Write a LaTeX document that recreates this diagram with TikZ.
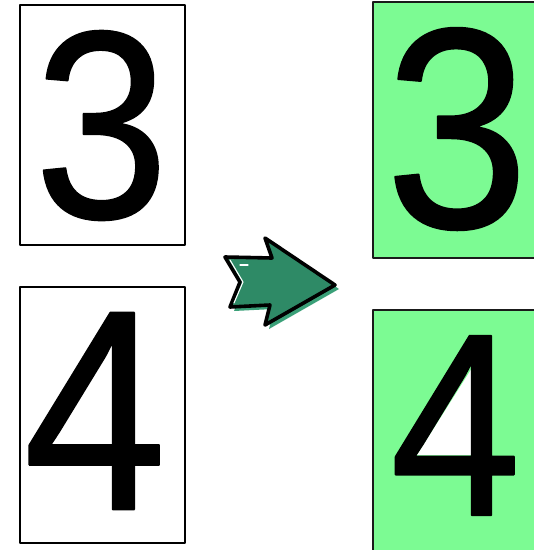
\documentclass[tikz,border=0pt]{standalone}
\usepackage{fontspec}
\setmainfont{Liberation Sans}
\newfontfamily\cardfont[FakeBold=0.7]{Liberation Sans}
\usepackage{xcolor}
\usetikzlibrary{calc}
\definecolor{cardgreen}{HTML}{7CFB93}
\definecolor{cardline}{HTML}{1A1A1A}
\definecolor{arrowgreen}{HTML}{2E8A66}
\definecolor{arrowshade}{HTML}{3AA078}
\tikzset{
every picture/.style={line cap=round,line join=round},
plain card/.style={draw=black, fill=white, line width=1.4pt},
done card/.style={draw=cardline, fill=cardgreen, line width=2pt},
card digit/.style={inner sep=0pt, anchor=center, xscale=0.9},
arrow body/.style={fill=arrowgreen, draw=black, line width=3.6pt},
arrow shadow/.style={fill=arrowshade},
arrow gleam/.style={draw=white, line width=1.1pt}
}
\newcommand{\digitsize}[1]{\cardfont\fontsize{#1}{#1}\selectfont}

\begin{document}
\begin{tikzpicture}[x=1pt,y=-1pt]
\useasboundingbox (0,0) rectangle (534,550);
\clip (0,0) rectangle (534,550);
% cards before
\draw[plain card] (20,5) rectangle (185,245);
\draw[plain card] (20,287) rectangle (185,543);
\node[card digit,font=\digitsize{268}] (three) at (101.5,125.5) {3};
\node[card digit,font=\digitsize{286}] (four) at (95,411) {4};
% cards after
\draw[done card] (373,2) rectangle (545,258);
\draw[done card] (373,310) rectangle (545,560);
\fill[white] (417,455) -- (472,368) -- (472,455) -- cycle;
\node[card digit,font=\digitsize{286}] (threedone) at (457,129) {3};
\node[card digit,font=\digitsize{261}] (fourdone) at (455.5,425.5) {4};
% arrow between
\fill[arrow shadow] (229,261) -- (244,286) -- (234,311) -- (274,309) -- (269,329)
  -- (339,289) -- (269,242) -- (276,262) -- cycle;
\draw[arrow body] (225,257) -- (240,282) -- (230,307) -- (270,305) -- (265,325)
  -- (335,285) -- (265,238) -- (272,258) -- cycle;
\draw[arrow gleam] (230,260) -- (243,282) -- (234,303);
\draw[arrow gleam] (240,265) -- (248,265);
\end{tikzpicture}
\end{document}
